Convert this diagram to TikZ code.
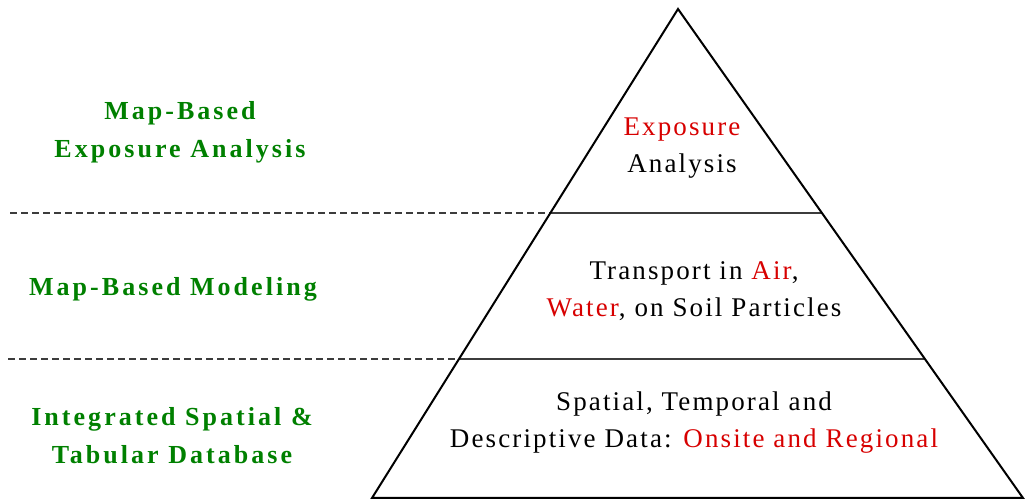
\documentclass[tikz,border=0pt]{standalone}
\usepackage{fontspec}
\setmainfont{Liberation Serif}
\newfontfamily\lblbf[LetterSpace=11.7]{Liberation Serif}
\newfontfamily\lblrm[LetterSpace=7.9]{Liberation Serif}
\usetikzlibrary{calc}
\definecolor{lblgreen}{RGB}{0,128,0}
\definecolor{hired}{RGB}{215,0,0}
\definecolor{divgray}{RGB}{60,60,60}
\tikzset{
  tri/.style={draw=black,line width=2pt,line join=miter},
  divline/.style={draw=divgray,line width=1.6pt},
  dashline/.style={draw=divgray,line width=1.4pt,dash pattern=on 7pt off 4pt},
  sidelbl/.style={text=lblgreen,font=\lblbf\fontsize{26}{38}\selectfont\bfseries,align=center,inner sep=0pt},
  inlbl/.style={text=black,font=\lblrm\fontsize{27}{37}\selectfont,align=center,inner sep=0pt}
}
\begin{document}
\begin{tikzpicture}[x=1pt,y=1pt]
\useasboundingbox (0,0) rectangle (1025,500);
\coordinate (A) at (678,491);
\coordinate (L) at (372,2);
\coordinate (R) at (1023,2);
\coordinate (L1) at ($(A)!0.417!(L)$);
\coordinate (R1) at ($(A)!0.417!(R)$);
\coordinate (L2) at ($(A)!0.716!(L)$);
\coordinate (R2) at ($(A)!0.716!(R)$);
\coordinate (D1) at (10,0 |- L1);
\coordinate (D2) at (8,0 |- L2);
\draw[dashline] (D1) -- (L1);
\draw[dashline] (D2) -- (L2);
\draw[divline] (L1) -- (R1);
\draw[divline] (L2) -- (R2);
\draw[tri] (A) -- (L) -- (R) -- cycle;
\node[sidelbl] (s1) at (180,368) {Map-Based\\Exposure Analysis};
\node[sidelbl] (s2) at (173,211) {Map-Based Modeling};
\node[sidelbl] (s3) at (172,64) {Integrated Spatial \&\\Tabular Database};
\node[inlbl] (t1) at (682,352) {\textcolor{hired}{Exposure}\\Analysis};
\node[inlbl] (t2) at (694,209) {Transport in \textcolor{hired}{Air},\\\textcolor{hired}{Water}, on Soil Particles};
\node[inlbl] (t3) at (694,77) {Spatial, Temporal and\\Descriptive Data: \textcolor{hired}{Onsite and Regional}};
\end{tikzpicture}
\end{document}
